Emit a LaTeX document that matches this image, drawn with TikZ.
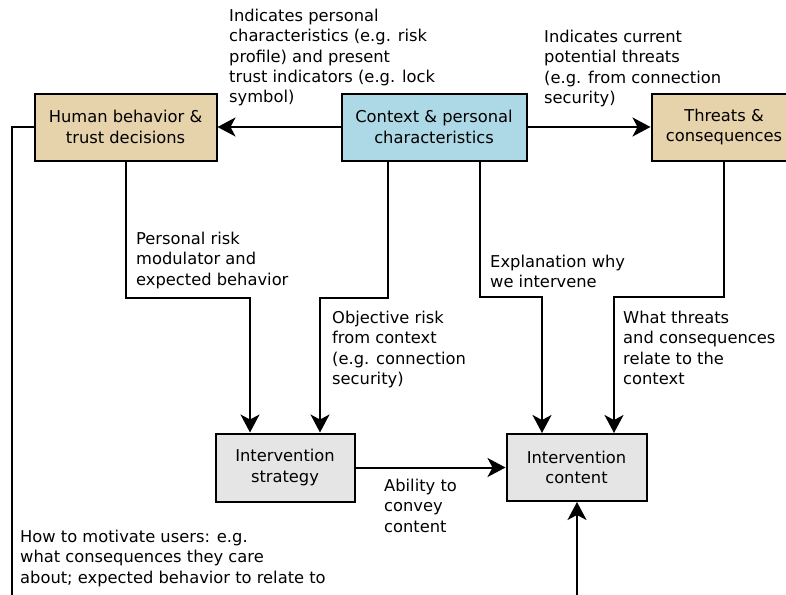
\documentclass[tikz,border=0pt]{standalone}
\usepackage{fontspec}
\setmainfont{DejaVu Sans}
\usetikzlibrary{arrows.meta}
\definecolor{tanbox}{HTML}{E6D2AB}
\definecolor{bluebox}{HTML}{ADD8E6}
\definecolor{graybox}{HTML}{E5E5E5}
\tikzset{
  box/.style={draw=black, line width=2pt, inner sep=0pt, align=center,
    font=\fontsize{16.3}{20.3}\selectfont},
  lbl/.style={anchor=north west, inner sep=0pt, align=left,
    font=\fontsize{16.3}{20.3}\selectfont},
  conn/.style={line width=2pt},
  arr/.style={line width=2pt, -{Stealth[length=18pt,width=19pt,inset=5pt]}},
}
\begin{document}
\begin{tikzpicture}[x=1pt,y=-1pt]
\useasboundingbox (0,0) rectangle (786,594);
\clip (0,0) rectangle (786,594);
\fill[white] (0,0) rectangle (786,594);
% boxes
\node[box, fill=tanbox, minimum width=182pt, minimum height=67pt] (human) at (125.5,127) {Human behavior \&\\trust decisions};
\node[box, fill=bluebox, minimum width=185pt, minimum height=67pt] (ctx) at (434,127) {Context \& personal\\characteristics};
\node[box, fill=tanbox, minimum width=145pt, minimum height=67pt] (threat) at (724,127) {Threats \&\\consequences};
\node[box, fill=graybox, minimum width=139pt, minimum height=68pt] (strat) at (285,467.5) {Intervention\\strategy};
\node[box, fill=graybox, minimum width=140pt, minimum height=67pt] (content) at (576.5,467.5) {Intervention\\content};
% junction coordinates
\coordinate (j1) at (250,298);
\coordinate (j2) at (320,298);
\coordinate (j3) at (542,297);
\coordinate (j4) at (614,297);
\coordinate (leftc) at (12,127);
\coordinate (leftend) at (12,600);
\coordinate (botend) at (577,600);
% connectors
\draw[arr] (ctx) -- (human);
\draw[arr] (ctx) -- (threat);
\draw[arr] (human.south) |- (j1) -- (j1 |- strat.north);
\draw[arr] ([xshift=-46pt]ctx.south) |- (j2) -- (j2 |- strat.north);
\draw[arr] ([xshift=46pt]ctx.south) |- (j3) -- (j3 |- content.north);
\draw[arr] (threat.south) |- (j4) -- (j4 |- content.north);
\draw[arr] (strat) -- (content);
\draw[conn] (human.west) -- (leftc) -- (leftend);
\draw[arr] (botend) -- (botend |- content.south);
% labels
\node[lbl] (l1) at (229,9) {Indicates personal\\characteristics (e.g. risk\\profile) and present\\trust indicators (e.g. lock\\symbol)};
\node[lbl] (l2) at (544,30) {Indicates current\\potential threats\\(e.g. from connection\\security)};
\node[lbl] (l3) at (136,232) {Personal risk\\modulator and\\expected behavior};
\node[lbl] (l4) at (332,311) {Objective risk\\from context\\(e.g. connection\\security)};
\node[lbl] (l5) at (490,255) {Explanation why\\we intervene};
\node[lbl] (l6) at (623,311) {What threats\\and consequences\\relate to the\\context};
\node[lbl] (l7) at (384,479) {Ability to\\convey\\content};
\node[lbl] (l8) at (20,530) {How to motivate users: e.g.\\what consequences they care\\about; expected behavior to relate to};
\end{tikzpicture}
\end{document}
